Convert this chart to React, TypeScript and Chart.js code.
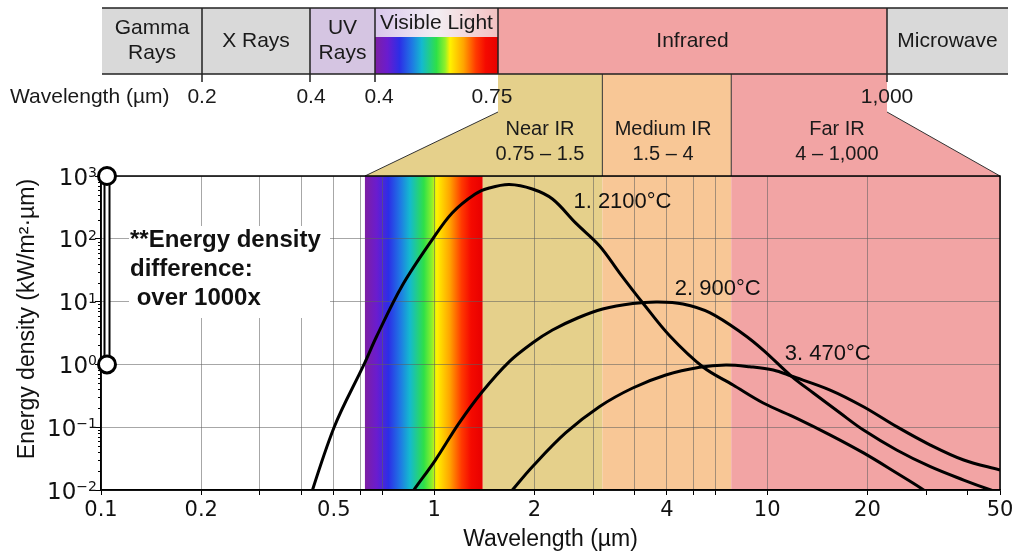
import React, { useEffect, useRef } from 'react';
import { Chart, registerables } from 'chart.js';

Chart.register(...registerables);

const FONT = '"Liberation Sans", Arial, Helvetica, sans-serif';
const TICK_FONT = '"DejaVu Sans", Verdana, sans-serif';

// Blackbody-style energy density curves: wavelength (µm) and energy density (kW/m²·µm)
const CURVE1_WL = [0.4, 0.5, 0.615, 0.673, 0.801, 0.986, 1.133, 1.329, 1.464, 1.682, 1.973, 2.267, 2.659, 3.14, 3.607, 4.233, 5.104, 6.415, 7.9, 9.73, 12.23, 15.48, 19.46, 24.47, 28.9, 31.6];
const CURVE1_E = [0.0029, 0.097, 0.98, 2.83, 17.7, 96, 258, 517, 644, 732, 621, 430, 179, 77, 28.5, 9.5, 2.83, 0.91, 0.47, 0.243, 0.14, 0.075, 0.039, 0.0187, 0.0108, 0.0077];

const CURVE2_WL = [0.83, 0.869, 1.009, 1.187, 1.395, 1.679, 1.973, 2.267, 2.696, 3.206, 3.948, 4.696, 5.585, 6.721, 8.47, 9.73, 11.81, 13.76, 16.56, 19.46, 24.47, 30.9, 38.9, 46.9, 50];
const CURVE2_E = [0.007, 0.01, 0.03, 0.115, 0.367, 1.1, 2.19, 3.53, 5.48, 7.62, 9.33, 9.86, 9.16, 6.66, 3.05, 1.69, 0.653, 0.351, 0.168, 0.09, 0.0434, 0.0235, 0.0144, 0.01, 0.009];

const CURVE3_WL = [1.548, 1.718, 1.973, 2.481, 3.134, 3.948, 4.963, 6.27, 7.52, 8.87, 10.43, 11.81, 15.45, 19.46, 24.47, 30.9, 38.9, 50];
const CURVE3_E = [0.00516, 0.01, 0.0235, 0.081, 0.212, 0.421, 0.678, 0.899, 0.977, 0.918, 0.815, 0.653, 0.391, 0.212, 0.102, 0.052, 0.03, 0.0208];

const CURVE_LABELS = ['1. 2100°C', '2. 900°C', '3. 470°C'];
const CURVE_LABEL_WL = [2.62, 5.28, 11.3];
const CURVE_LABEL_E = [385, 15.8, 1.47];

// Axis ticks
const X_GRID_VALUES = [0.1, 0.2, 0.3, 0.4, 0.5, 0.6, 0.7, 1, 2, 3, 4, 5, 6, 7, 10, 20, 30, 40, 50];
const X_TICK_ONLY_VALUES = [30, 40];
const X_LABEL_VALUES = [0.1, 0.2, 0.5, 1, 2, 5, 10, 20, 50];
const X_LABEL_TEXT = ['0.1', '0.2', '0.5', '1', '2', '4', '10', '20', '50'];
const Y_DECADES = [0.01, 0.1, 1, 10, 100, 1000];
const Y_LABEL_EXP = ['−2', '−1', '0', '1', '2', '3'];

// Shaded wavelength bands inside the plot: visible | near IR | medium IR | far IR
const PLOT_BAND_EDGES = [0.62, 1.4, 3.2, 7.8, 50];
const PLOT_BAND_COLORS = ['#e5d08b', '#f8c796', '#f2a4a4'];

const VISIBLE_STOPS: [number, string][] = [
  [0, '#7e1fa3'], [0.1, '#6a1ccf'], [0.2, '#2c2ee6'], [0.3, '#1f78e4'], [0.38, '#14b9cf'],
  [0.5, '#2ee048'], [0.57, '#8ff02a'], [0.61, '#fff200'], [0.72, '#ffa400'], [0.82, '#ff3a00'], [0.9, '#f50a00'], [1, '#e80000'],
];

// Electromagnetic spectrum strip
const SPECTRUM_NAMES = ['Gamma\nRays', 'X Rays', 'UV\nRays', 'Visible Light', 'Infrared', 'Microwave'];
const SPECTRUM_EDGES = [102, 202, 310, 375, 498, 887, 1008];
const SPECTRUM_COLORS = ['#d9d9d9', '#d9d9d9', '#d5c5e2', '', '#f2a3a3', '#d9d9d9'];
const WAVELENGTH_MARKS = ['0.2', '0.4', '0.4', '0.75', '1,000'];
const WAVELENGTH_MARK_X = [202, 311, 379, 492, 887];

const IR_NAMES = ['Near IR', 'Medium IR', 'Far IR'];
const IR_RANGES = ['0.75 – 1.5', '1.5 – 4', '4 – 1,000'];
const IR_LABEL_X = [540, 663, 837];

function spectrumGradient(ctx: CanvasRenderingContext2D, x0: number, x1: number) {
  const g = ctx.createLinearGradient(x0, 0, x1, 0);
  VISIBLE_STOPS.forEach(([p, c]) => g.addColorStop(p, c));
  return g;
}

const diagramPlugin = {
  id: 'spectrumDiagram',
  beforeDraw(chart: any) {
    const { ctx, chartArea: a, scales } = chart;
    const xs = scales.x;
    const px = (v: number) => xs.getPixelForValue(v);
    ctx.save();
    ctx.fillStyle = '#ffffff';
    ctx.fillRect(0, 0, chart.width, chart.height);

    // plot bands
    const e = PLOT_BAND_EDGES.map(px);
    ctx.fillStyle = spectrumGradient(ctx, e[0], e[1]);
    ctx.fillRect(e[0], a.top, e[1] - e[0], a.bottom - a.top);
    for (let i = 0; i < 3; i++) {
      ctx.fillStyle = PLOT_BAND_COLORS[i];
      ctx.fillRect(e[i + 1], a.top, e[i + 2] - e[i + 1], a.bottom - a.top);
    }

    // spectrum strip
    const top = 8, bot = 74, split = 37;
    for (let i = 0; i < SPECTRUM_NAMES.length; i++) {
      const x0 = SPECTRUM_EDGES[i], x1 = SPECTRUM_EDGES[i + 1];
      if (i === 3) {
        const g = ctx.createLinearGradient(x0, 0, x1, 0);
        g.addColorStop(0, '#d9c6ec');
        g.addColorStop(0.5, '#f3eef3');
        g.addColorStop(1, '#f3c2c2');
        ctx.fillStyle = g;
        ctx.fillRect(x0, top, x1 - x0, split - top);
        ctx.fillStyle = spectrumGradient(ctx, x0, x1);
        ctx.fillRect(x0, split, x1 - x0, bot - split);
      } else {
        ctx.fillStyle = SPECTRUM_COLORS[i];
        ctx.fillRect(x0, top, x1 - x0, bot - top);
      }
    }

    // IR sub-bands fanning out onto the plot
    const nearMed = px(PLOT_BAND_EDGES[2]);
    const medFar = px(PLOT_BAND_EDGES[3]);
    const visL = px(PLOT_BAND_EDGES[0]);
    const irL = SPECTRUM_EDGES[4], irR = SPECTRUM_EDGES[5];
    const kink = 112;
    ctx.fillStyle = PLOT_BAND_COLORS[0];
    ctx.beginPath();
    ctx.moveTo(irL, bot); ctx.lineTo(nearMed, bot); ctx.lineTo(nearMed, a.top);
    ctx.lineTo(visL, a.top); ctx.lineTo(irL, kink); ctx.closePath(); ctx.fill();
    ctx.fillStyle = PLOT_BAND_COLORS[1];
    ctx.fillRect(nearMed, bot, medFar - nearMed, a.top - bot);
    ctx.fillStyle = PLOT_BAND_COLORS[2];
    ctx.beginPath();
    ctx.moveTo(medFar, bot); ctx.lineTo(irR, bot); ctx.lineTo(irR, kink);
    ctx.lineTo(a.right, a.top); ctx.lineTo(medFar, a.top); ctx.closePath(); ctx.fill();

    ctx.strokeStyle = '#333';
    ctx.lineWidth = 1;
    ctx.beginPath();
    ctx.moveTo(irL, kink); ctx.lineTo(visL, a.top);
    ctx.moveTo(irR, kink); ctx.lineTo(a.right, a.top);
    ctx.moveTo(nearMed, bot); ctx.lineTo(nearMed, a.top);
    ctx.moveTo(medFar, bot); ctx.lineTo(medFar, a.top);
    ctx.stroke();

    // strip outlines
    ctx.strokeStyle = '#222';
    ctx.lineWidth = 1.5;
    ctx.beginPath();
    ctx.moveTo(SPECTRUM_EDGES[0], top); ctx.lineTo(SPECTRUM_EDGES[6], top);
    ctx.moveTo(SPECTRUM_EDGES[0], bot); ctx.lineTo(SPECTRUM_EDGES[6], bot);
    for (let i = 1; i < 6; i++) {
      const xv = SPECTRUM_EDGES[i];
      ctx.moveTo(xv, top);
      ctx.lineTo(xv, i === 4 ? bot : 82);
    }
    ctx.stroke();

    // strip labels
    ctx.fillStyle = '#1a1a1a';
    ctx.textAlign = 'center';
    ctx.textBaseline = 'middle';
    ctx.font = `21px ${FONT}`;
    for (let i = 0; i < SPECTRUM_NAMES.length; i++) {
      const cx = (SPECTRUM_EDGES[i] + SPECTRUM_EDGES[i + 1]) / 2;
      const lines = SPECTRUM_NAMES[i].split('\n');
      if (i === 3) {
        ctx.fillText(lines[0], cx, 23);
      } else if (lines.length === 2) {
        ctx.fillText(lines[0], cx, 28);
        ctx.fillText(lines[1], cx, 53);
      } else {
        ctx.fillText(lines[0], cx, 41);
      }
    }

    // wavelength row
    ctx.textAlign = 'left';
    ctx.fillText('Wavelength (µm)', 10, 97);
    ctx.textAlign = 'center';
    WAVELENGTH_MARKS.forEach((t, i) => ctx.fillText(t, WAVELENGTH_MARK_X[i], 97));

    // IR sub-band labels
    ctx.font = `20px ${FONT}`;
    IR_NAMES.forEach((t, i) => {
      ctx.fillText(t, IR_LABEL_X[i], 129);
      ctx.fillText(IR_RANGES[i], IR_LABEL_X[i], 154);
    });
    ctx.restore();
  },
  afterDraw(chart: any) {
    const { ctx, chartArea: a, scales } = chart;
    const ys = scales.y, xs = scales.x;
    ctx.save();

    // minor y ticks
    ctx.strokeStyle = '#000';
    ctx.lineWidth = 1;
    ctx.beginPath();
    for (let d = 0; d < Y_DECADES.length - 1; d++) {
      for (let m = 2; m < 10; m++) {
        const py = Math.round(ys.getPixelForValue(Y_DECADES[d] * m)) + 0.5;
        ctx.moveTo(a.left - 3, py);
        ctx.lineTo(a.left, py);
      }
    }
    ctx.stroke();

    // plot frame
    ctx.lineWidth = 1.5;
    ctx.strokeRect(a.left, a.top, a.right - a.left, a.bottom - a.top);

    // y tick labels as powers of ten
    ctx.fillStyle = '#111';
    ctx.textAlign = 'right';
    ctx.textBaseline = 'alphabetic';
    Y_DECADES.forEach((v, i) => {
      const py = ys.getPixelForValue(v);
      const right = a.left - 4;
      ctx.font = `14px ${TICK_FONT}`;
      const ew = ctx.measureText(Y_LABEL_EXP[i]).width;
      ctx.fillText(Y_LABEL_EXP[i], right, py + 1);
      ctx.font = `23px ${TICK_FONT}`;
      ctx.fillText('10', right - ew, py + 8.5);
    });

    // annotation box
    ctx.fillStyle = '#ffffff';
    ctx.fillRect(a.left + 28, 226, 201, 92);
    ctx.fillStyle = '#111';
    ctx.font = `bold 24px ${FONT}`;
    ctx.textAlign = 'left';
    ctx.textBaseline = 'middle';
    ctx.fillText('**Energy density', a.left + 29, 240);
    ctx.fillText('difference:', a.left + 29, 269);
    ctx.fillText(' over 1000x', a.left + 29, 298);

    // difference bracket from 10⁰ to 10³
    const bx = a.left + 6;
    const yTop = ys.getPixelForValue(1000);
    const yBot = ys.getPixelForValue(1);
    ctx.fillStyle = '#fff';
    ctx.strokeStyle = '#000';
    ctx.lineWidth = 2;
    ctx.fillRect(bx - 2.5, yTop, 5, yBot - yTop);
    ctx.strokeRect(bx - 2.5, yTop, 5, yBot - yTop);
    ctx.lineWidth = 3;
    [yTop, yBot].forEach((cy) => {
      ctx.beginPath();
      ctx.arc(bx, cy, 8.5, 0, Math.PI * 2);
      ctx.fillStyle = '#fff';
      ctx.fill();
      ctx.stroke();
    });

    // curve labels
    ctx.fillStyle = '#111';
    ctx.font = `22px ${FONT}`;
    CURVE_LABELS.forEach((t, i) => {
      ctx.fillText(t, xs.getPixelForValue(CURVE_LABEL_WL[i]), ys.getPixelForValue(CURVE_LABEL_E[i]));
    });

    // y axis title
    ctx.save();
    ctx.translate(28, 319);
    ctx.rotate(-Math.PI / 2);
    ctx.textAlign = 'center';
    ctx.font = `23px ${FONT}`;
    ctx.fillText('Energy density (kW/m²·µm)', 0, 0);
    ctx.restore();

    ctx.restore();
  },
};

function toPoints(wl: number[], e: number[]) {
  return wl.map((x, i) => ({ x, y: e[i] }));
}

export default function App() {
  const ref = useRef<HTMLCanvasElement | null>(null);

  useEffect(() => {
    const canvas = ref.current;
    if (!canvas) return;
    const line = {
      borderColor: '#000',
      borderWidth: 3,
      pointRadius: 0,
      tension: 0.35,
      fill: false,
    };
    const chart = new Chart(canvas, {
      type: 'line',
      data: {
        datasets: [
          { ...line, data: toPoints(CURVE1_WL, CURVE1_E) },
          { ...line, data: toPoints(CURVE2_WL, CURVE2_E) },
          { ...line, data: toPoints(CURVE3_WL, CURVE3_E) },
        ],
      },
      options: {
        responsive: false,
        animation: false,
        events: [],
        layout: { padding: { top: 176, right: 24, left: 0, bottom: 0 } },
        plugins: { legend: { display: false }, tooltip: { enabled: false } },
        scales: {
          x: {
            type: 'logarithmic',
            min: 0.1,
            max: 50,
            afterFit: (s: any) => { s.height = 69; },
            afterBuildTicks: (s: any) => { s.ticks = X_GRID_VALUES.map((v) => ({ value: v })); },
            ticks: {
              autoSkip: false,
              maxRotation: 0,
              padding: 3,
              color: '#111',
              font: { family: TICK_FONT, size: 21 },
              callback: (_v: any, i: number) => {
                const k = X_LABEL_VALUES.indexOf(X_GRID_VALUES[i]);
                return k >= 0 ? X_LABEL_TEXT[k] : '';
              },
            },
            grid: {
              color: (c: any) => (X_TICK_ONLY_VALUES.includes(c.tick?.value) ? 'rgba(0,0,0,0)' : 'rgba(95,95,95,0.55)'),
              tickColor: '#000',
              tickLength: 5,
              lineWidth: 1,
            },
            border: { color: '#000', width: 1.5 },
            title: {
              display: true,
              text: 'Wavelength (µm)',
              color: '#111',
              font: { family: FONT, size: 23 },
              padding: { top: 0, bottom: 6 },
            },
          },
          y: {
            type: 'logarithmic',
            min: 0.01,
            max: 1000,
            afterFit: (s: any) => { s.width = 101; },
            afterBuildTicks: (s: any) => { s.ticks = Y_DECADES.map((v) => ({ value: v })); },
            ticks: { display: false, autoSkip: false },
            grid: { color: 'rgba(95,95,95,0.55)', tickColor: '#000', tickLength: 6, lineWidth: 1 },
            border: { color: '#000', width: 1.5 },
          },
        },
      },
      plugins: [diagramPlugin],
    });
    return () => chart.destroy();
  }, []);

  return (
    <div style={{ position: 'absolute', left: 0, top: 0, width: 1024, height: 559, background: '#fff' }}>
      <canvas ref={ref} width={1024} height={559} style={{ width: 1024, height: 559, display: 'block' }} />
    </div>
  );
}
